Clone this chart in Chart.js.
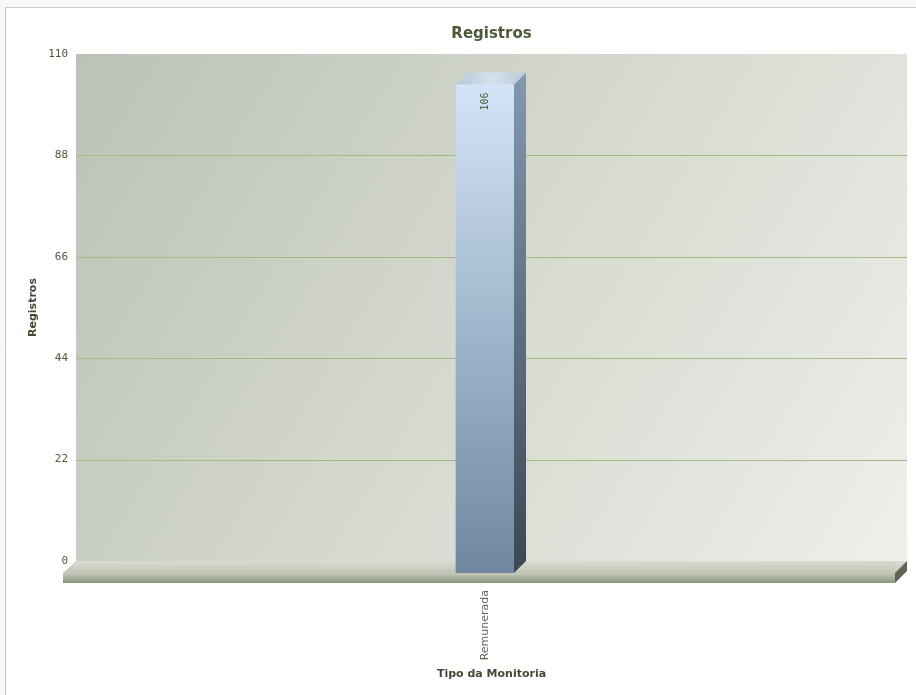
<!DOCTYPE html>
<html>
<head>
<meta charset="utf-8">
<script src="https://cdn.jsdelivr.net/npm/chart.js@4.4.0/dist/chart.umd.min.js"></script>
<style>
  html, body { margin: 0; padding: 0; background: #f8f8f8; }
  #wrap { width: 916px; height: 695px; }
</style>
</head>
<body>
<div id="wrap"><canvas id="myChart" width="916" height="695"></canvas></div>
<script>
const categories = ['Remunerada'];
const registros = [106];
const yTicks = [0, 22, 44, 66, 88, 110];

const DEPTH = 12;
const SHIFT = -6.5; // deslocamento da face frontal da barra
const txtColor = '#4b5b39';

// fundo, parede, chao e faces 3D da barra
const fake3d = {
    id: 'fake3d',
    beforeDraw(chart) {
        const ctx = chart.ctx;
        ctx.save();
        ctx.fillStyle = '#f8f8f8';
        ctx.fillRect(0, 0, chart.width, chart.height);
        ctx.fillStyle = '#ffffff';
        ctx.fillRect(5, 7, chart.width, chart.height);
        ctx.strokeStyle = '#cacaca';
        ctx.lineWidth = 1;
        ctx.beginPath();
        ctx.moveTo(5.5, chart.height);
        ctx.lineTo(5.5, 7.5);
        ctx.lineTo(chart.width, 7.5);
        ctx.stroke();
        ctx.restore();
    },
    beforeDatasetsDraw(chart) {
        const ctx = chart.ctx;
        const ca = chart.chartArea;
        const y = chart.scales.y;
        const L = ca.left, R = ca.right, T = ca.top, B = ca.bottom;
        ctx.save();
        // parede do fundo
        const wg = ctx.createLinearGradient(L, T, R, B);
        wg.addColorStop(0, '#bcc2b5');
        wg.addColorStop(1, '#eef0e9');
        ctx.fillStyle = wg;
        ctx.fillRect(L, T, R - L, B - T);
        // linhas de grade
        ctx.strokeStyle = '#a2bb84';
        ctx.lineWidth = 1;
        y.ticks.forEach((t, i) => {
            if (t.value === 0 || t.value === 110) return;
            const py = Math.round(y.getPixelForTick(i)) + 0.5;
            ctx.beginPath();
            ctx.moveTo(L, py);
            ctx.lineTo(R, py);
            ctx.stroke();
        });
        // chao: superficie
        const fg = ctx.createLinearGradient(0, B, 0, B + DEPTH);
        fg.addColorStop(0, '#d9dcd2');
        fg.addColorStop(1, '#c1c5b7');
        ctx.fillStyle = fg;
        ctx.beginPath();
        ctx.moveTo(L, B);
        ctx.lineTo(R, B);
        ctx.lineTo(R - DEPTH, B + DEPTH);
        ctx.lineTo(L - DEPTH - 1, B + DEPTH);
        ctx.closePath();
        ctx.fill();
        // chao: frente
        const ff = ctx.createLinearGradient(0, B + DEPTH, 0, B + DEPTH + 10);
        ff.addColorStop(0, '#c6cabb');
        ff.addColorStop(0.5, '#a7ae98');
        ff.addColorStop(1, '#8d967f');
        ctx.fillStyle = ff;
        ctx.fillRect(L - DEPTH - 1, B + DEPTH, R - DEPTH - (L - DEPTH - 1), 10);
        // chao: lateral
        ctx.fillStyle = '#5d6650';
        ctx.beginPath();
        ctx.moveTo(R, B);
        ctx.lineTo(R, B + 10);
        ctx.lineTo(R - DEPTH, B + DEPTH + 10);
        ctx.lineTo(R - DEPTH, B + DEPTH);
        ctx.closePath();
        ctx.fill();
        ctx.restore();
        // face frontal da barra desenhada deslocada para baixo/esquerda
        ctx.save();
        ctx.translate(SHIFT, DEPTH);
    },
    afterDatasetsDraw(chart) {
        const ctx = chart.ctx;
        ctx.restore();
        ctx.save();
        chart.getDatasetMeta(0).data.forEach((bar, i) => {
            const half = bar.width / 2;
            const xl = bar.x + SHIFT - half, xr = bar.x + SHIFT + half;
            const top = bar.y, base = bar.base;
            // lateral
            const sg = ctx.createLinearGradient(0, top, 0, base);
            sg.addColorStop(0, '#8299b0');
            sg.addColorStop(1, '#3b4a59');
            ctx.fillStyle = sg;
            ctx.beginPath();
            ctx.moveTo(xr, top + DEPTH);
            ctx.lineTo(xr + DEPTH, top);
            ctx.lineTo(xr + DEPTH, base);
            ctx.lineTo(xr, base + DEPTH);
            ctx.closePath();
            ctx.fill();
            // topo
            const tg = ctx.createLinearGradient(xl, 0, xr + DEPTH, 0);
            tg.addColorStop(0, '#b4c6d8');
            tg.addColorStop(0.5, '#d6e2ee');
            tg.addColorStop(1, '#b9c9da');
            ctx.fillStyle = tg;
            ctx.beginPath();
            ctx.moveTo(xl, top + DEPTH);
            ctx.lineTo(xl + DEPTH, top);
            ctx.lineTo(xr + DEPTH, top);
            ctx.lineTo(xr, top + DEPTH);
            ctx.closePath();
            ctx.fill();
            // rotulo do valor
            ctx.save();
            ctx.translate(bar.x + SHIFT, top + DEPTH + 8);
            ctx.rotate(-Math.PI / 2);
            ctx.fillStyle = txtColor;
            ctx.font = '10px "DejaVu Sans Mono"';
            ctx.textAlign = 'right';
            ctx.textBaseline = 'middle';
            ctx.fillText(String(registros[i]), 0, 0);
            ctx.restore();
        });
        ctx.restore();
    }
};

const ctx = document.getElementById('myChart').getContext('2d');
const myChart = new Chart(ctx, {
    type: 'bar',
    data: {
        labels: categories,
        datasets: [{
            label: 'Registros',
            data: registros,
            barThickness: 58,
            borderWidth: 0,
            backgroundColor: function(c) {
                const ca = c.chart.chartArea;
                if (!ca) return '#8fa6bd';
                const g = c.chart.ctx.createLinearGradient(0, ca.top + 18, 0, ca.bottom);
                g.addColorStop(0, '#d3e5f8');
                g.addColorStop(1, '#6f879f');
                return g;
            }
        }]
    },
    options: {
        responsive: false,
        animation: false,
        layout: { padding: { left: 0, right: 9, top: 0, bottom: 0 } },
        plugins: {
            legend: { display: false },
            tooltip: { enabled: false },
            title: {
                display: true,
                fullSize: false,
                text: 'Registros',
                color: txtColor,
                font: { family: 'DejaVu Sans', size: 15, weight: 'bold' },
                padding: { top: 25, bottom: 11 }
            }
        },
        scales: {
            x: {
                grid: { display: false },
                border: { display: false },
                ticks: {
                    color: '#5f6658',
                    font: { family: 'DejaVu Sans', size: 11 },
                    minRotation: 90,
                    maxRotation: 90,
                    labelOffset: SHIFT,
                    padding: 21
                },
                title: {
                    display: true,
                    text: 'Tipo da Monitoria',
                    color: '#3f4a33',
                    font: { family: 'DejaVu Sans', size: 11, weight: 'bold' },
                    padding: { top: 0, bottom: 14.4 }
                },
                afterFit: function(s) { s.height = 134; }
            },
            y: {
                min: 0,
                max: 110,
                grid: { display: false },
                border: { display: false },
                afterBuildTicks: function(s) {
                    s.ticks = yTicks.map(v => ({ value: v }));
                },
                ticks: {
                    color: txtColor,
                    font: { family: 'DejaVu Sans Mono', size: 11 },
                    padding: 0
                },
                title: {
                    display: true,
                    text: 'Registros',
                    color: '#3f4a33',
                    font: { family: 'DejaVu Sans', size: 11, weight: 'bold' },
                    padding: { top: 26.4, bottom: 0 }
                },
                afterFit: function(s) { s.width = 76; }
            }
        }
    },
    plugins: [fake3d]
});
</script>
</body>
</html>
